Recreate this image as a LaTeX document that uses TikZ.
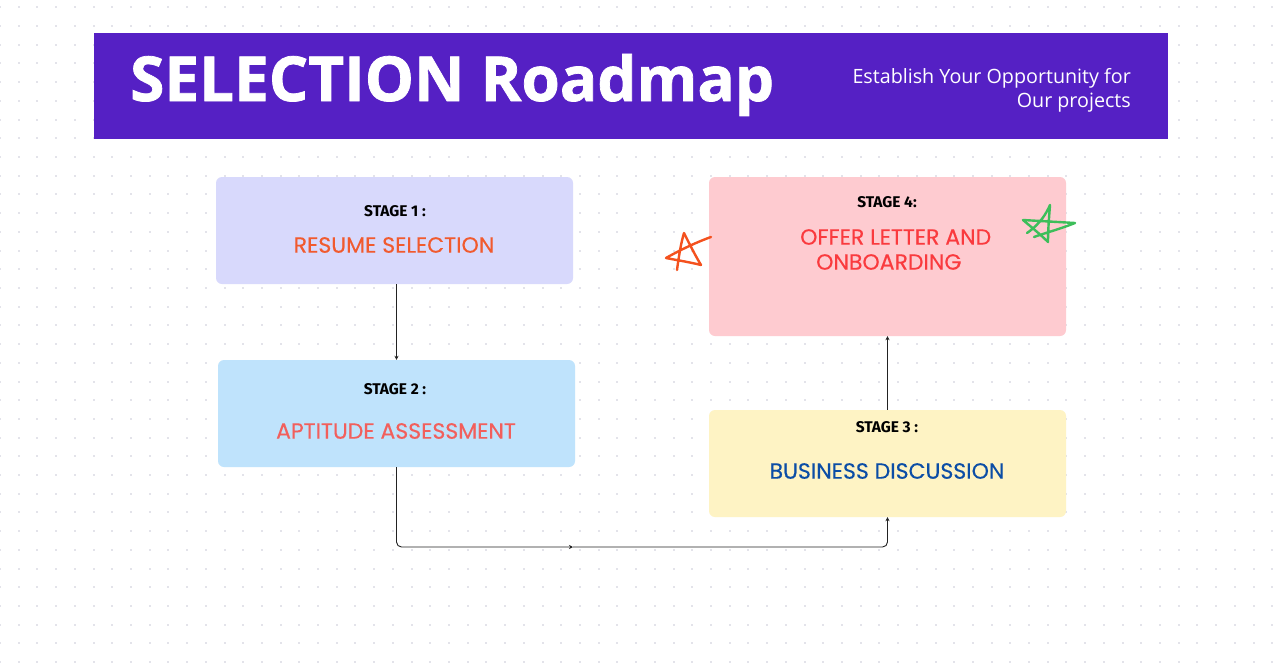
\documentclass[tikz,border=0pt]{standalone}
\usepackage{fontspec}
\setmainfont{Open Sans}
\newfontfamily\titlefont{Open Sans}[FakeBold=1.2]
\newfontfamily\stagefont{Fira Sans}
\newfontfamily\labelfont{Poppins}[FakeBold=0.35]
\usetikzlibrary{arrows.meta}

\definecolor{bandpurple}{HTML}{5520C4}
\definecolor{dotgray}{HTML}{E3E3EA}
\definecolor{lavender}{HTML}{D8D9FC}
\definecolor{skyblue}{HTML}{BFE3FC}
\definecolor{cream}{HTML}{FEF3C4}
\definecolor{blush}{HTML}{FECBD0}
\definecolor{txtorange}{HTML}{F15A2E}
\definecolor{txtsalmon}{HTML}{F25F5C}
\definecolor{txtblue}{HTML}{0B4DA6}
\definecolor{txtred}{HTML}{FA3A3E}
\definecolor{starorange}{HTML}{F4511E}
\definecolor{stargreen}{HTML}{3DBE5A}
\definecolor{linkgray}{HTML}{222222}

\tikzset{
  stagebox/.style={rounded corners=6pt, minimum width=357pt, inner sep=0pt},
  stagetag/.style={font=\stagefont\bfseries\fontsize{15.5}{18}\selectfont, text=black, inner sep=0pt},
  stagename/.style={font=\labelfont\fontsize{22}{26}\selectfont, inner sep=0pt},
  link/.style={draw=linkgray, line width=0.9pt, -{Stealth[length=4pt,width=4pt]}},
  scribble/.style={line width=2.4pt, line cap=round, line join=round},
}

\begin{document}
\begin{tikzpicture}[x=1pt,y=-1pt]
\useasboundingbox (0,0) rectangle (1274,664);
\fill[white] (0,0) rectangle (1274,664);

% dotted canvas
\foreach \i in {0,...,68}{
  \foreach \j in {0,...,35}{
    \fill[dotgray] ({\i*18.71-1},{7.3+\j*18.71-1}) rectangle ++(2,2);
  }
}

% header band
\fill[bandpurple] (94,33) rectangle (1168,139);
\node[anchor=base west, inner sep=0pt, text=white, font=\titlefont\bfseries\fontsize{62}{68}\selectfont]
  (title) at (130,101) {SELECTION Roadmap};
\node[anchor=base east, inner sep=0pt, text=white, font=\fontsize{19.7}{23}\selectfont]
  (sub1) at (1131,83) {Establish Your Opportunity for};
\node[anchor=base east, inner sep=0pt, text=white, font=\fontsize{19.7}{23}\selectfont]
  (sub2) at (1131,107) {Our projects};

% stage boxes
\node[stagebox, fill=lavender, minimum height=107pt] (b1) at (394.5,230.5) {};
\node[stagebox, fill=skyblue,  minimum height=107pt] (b2) at (396.5,413.5) {};
\node[stagebox, fill=cream,    minimum height=107pt] (b3) at (887.5,463.5) {};
\node[stagebox, fill=blush,    minimum height=159pt] (b4) at (887.5,256.5) {};

% stage texts
\node[stagetag] (t1) at (395,211) {STAGE 1 :};
\node[stagename, text=txtorange] (n1) at (394,245) {RESUME SELECTION};
\node[stagetag] (t2) at (395,389) {STAGE 2 :};
\node[stagename, text=txtsalmon] (n2) at (396,431) {APTITUDE ASSESSMENT};
\node[stagetag] (t3) at (887,427) {STAGE 3 :};
\node[stagename, text=txtblue] (n3) at (887,471) {BUSINESS DISCUSSION};
\node[stagetag] (t4) at (887,202) {STAGE 4:};
\node[stagename, text=txtred, anchor=west] (n4a) at (800,237) {OFFER LETTER AND};
\node[stagename, text=txtred, anchor=west] (n4b) at (816,262) {ONBOARDING};

% connectors
\coordinate (turn) at (573,547);
\draw[link] (b2.north |- b1.south) -- (b2.north);
\draw[link, rounded corners=5pt] (b2.south) |- (turn);
\draw[link, rounded corners=5pt] (turn) -| (b3.south);
\draw[link] (b3.north) -- (b4.south);

% hand-drawn stars
\draw[scribble, starorange]
  (677,270) .. controls (679,255) and (681,243) .. (684,233)
  .. controls (690,245) and (695,255) .. (701,265)
  .. controls (689,262) and (676,260) .. (666,258)
  .. controls (680,250) and (697,242) .. (711,237);
\draw[scribble, stargreen]
  (1027,233) .. controls (1040,224) and (1046,214) .. (1050,205)
  .. controls (1049,218) and (1048,230) .. (1048,242)
  .. controls (1040,234) and (1030,226) .. (1023,220)
  .. controls (1040,221) and (1058,222) .. (1075,223)
  .. controls (1060,229) and (1045,233) .. (1034,237);
\end{tikzpicture}
\end{document}
